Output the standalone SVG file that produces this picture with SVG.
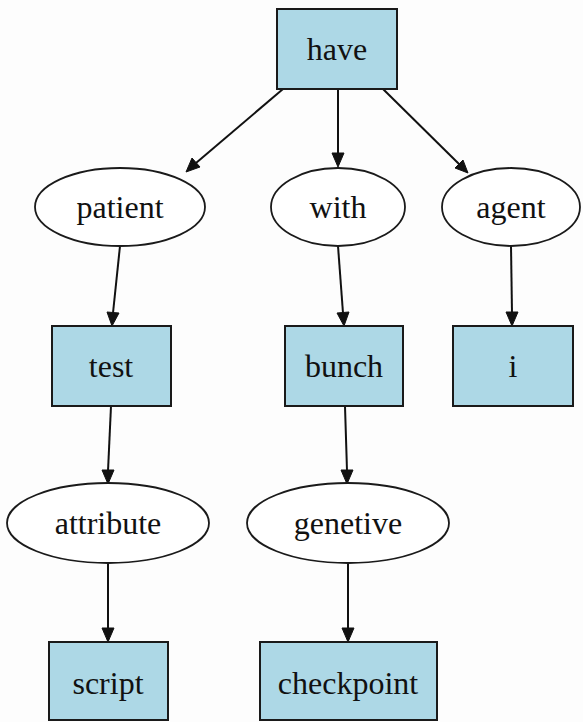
<svg xmlns="http://www.w3.org/2000/svg" width="583" height="722" viewBox="0 0 583 722">
<style>
text{font-family:"Liberation Serif","Times New Roman",Times,serif;font-size:32px;fill:#111;text-anchor:middle}
.box{fill:#add8e6;stroke:#1a1a1a;stroke-width:2}
.ell{fill:#ffffff;stroke:#1a1a1a;stroke-width:1.8}
.edge{stroke:#111;stroke-width:2;fill:none}
.head{fill:#111;stroke:#111;stroke-width:1}
</style>
<rect width="583" height="722" fill="#fdfdfd"/>
<g id="connectors">
<line class="edge" x1="283" y1="89" x2="196" y2="163"/>
<polygon class="head" points="186,172 192,158 200,167"/>
<line class="edge" x1="338" y1="89" x2="338" y2="154"/>
<polygon class="head" points="338,167 332,153 344,153"/>
<line class="edge" x1="383" y1="89" x2="459" y2="164"/>
<polygon class="head" points="468,173 455,168 463,160"/>
<line class="edge" x1="120" y1="246" x2="113" y2="313"/>
<polygon class="head" points="112,326 107,312 119,313"/>
<line class="edge" x1="338" y1="246" x2="343" y2="313"/>
<polygon class="head" points="344,326 337,313 349,312"/>
<line class="edge" x1="511" y1="246" x2="512" y2="313"/>
<polygon class="head" points="512,326 506,312 518,312"/>
<line class="edge" x1="111" y1="406" x2="108" y2="471"/>
<polygon class="head" points="108,484 102,470 114,470"/>
<line class="edge" x1="345" y1="406" x2="347" y2="471"/>
<polygon class="head" points="347,484 341,470 353,470"/>
<line class="edge" x1="108" y1="563" x2="108" y2="629"/>
<polygon class="head" points="108,642 102,628 114,628"/>
<line class="edge" x1="348" y1="563" x2="348" y2="629"/>
<polygon class="head" points="348,642 342,628 354,628"/>
</g>
<g id="have"><rect class="box" x="277" y="9" width="120" height="80"/><text x="337" y="60">have</text></g>
<g id="patient"><ellipse class="ell" cx="120" cy="207" rx="85" ry="39"/><text x="120" y="218">patient</text></g>
<g id="with"><ellipse class="ell" cx="338" cy="207" rx="67" ry="39"/><text x="338" y="218">with</text></g>
<g id="agent"><ellipse class="ell" cx="511" cy="207" rx="69" ry="39"/><text x="511" y="218">agent</text></g>
<g id="test"><rect class="box" x="52" y="326" width="119" height="80"/><text x="111" y="377">test</text></g>
<g id="bunch"><rect class="box" x="285" y="326" width="118" height="80"/><text x="344" y="377">bunch</text></g>
<g id="i"><rect class="box" x="453" y="326" width="120" height="80"/><text x="513" y="377">i</text></g>
<g id="attribute"><ellipse class="ell" cx="108" cy="523" rx="101" ry="40"/><text x="108" y="534">attribute</text></g>
<g id="genetive"><ellipse class="ell" cx="348" cy="523" rx="101" ry="40"/><text x="348" y="534">genetive</text></g>
<g id="script"><rect class="box" x="49" y="642" width="119" height="78"/><text x="108" y="694">script</text></g>
<g id="checkpoint"><rect class="box" x="260" y="642" width="177" height="78"/><text x="348" y="694">checkpoint</text></g>
</svg>
